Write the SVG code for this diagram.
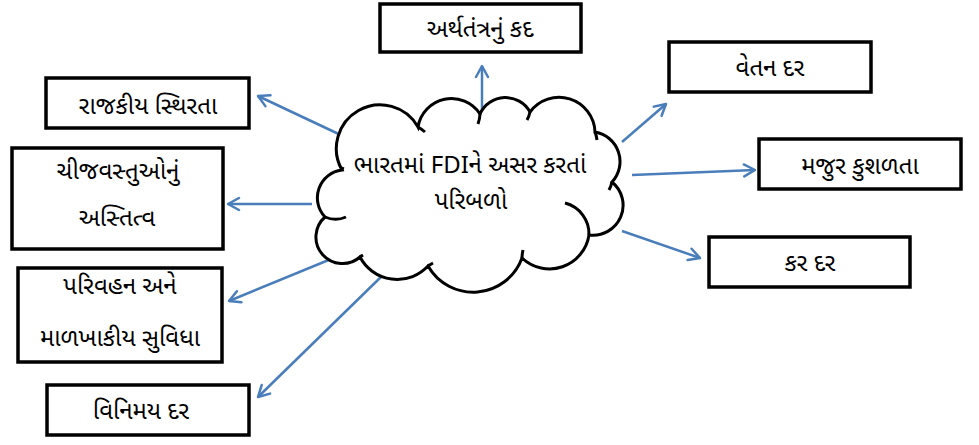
<svg xmlns="http://www.w3.org/2000/svg" width="979" height="445" viewBox="0 0 979 445">
<defs>
<marker id="ah" markerWidth="16" markerHeight="16" refX="13" refY="8" orient="auto" markerUnits="userSpaceOnUse">
<path d="M2,2 L13,8 L2,14" fill="none" stroke="#4a7ebb" stroke-width="2.5" stroke-linecap="round" stroke-linejoin="round"/>
</marker>
<style>
.box{fill:#fff;stroke:#000;stroke-width:3.5}
.t{font-family:"Noto Sans Gujarati","Noto Sans","Liberation Sans",sans-serif;font-size:24px;fill:#000;text-anchor:middle}
.c{fill:none;stroke:#4a7ebb;stroke-width:2.5;marker-end:url(#ah)}
.cl{fill:#fff;stroke:#000;stroke-width:3}
.st{fill:none;stroke:#000;stroke-width:3}
</style>
</defs>
<rect width="979" height="445" fill="#fff"/>
<g id="connectors">
<line class="c" x1="482" y1="118" x2="482" y2="66"/>
<line class="c" x1="622" y1="142" x2="666" y2="104"/>
<line class="c" x1="632" y1="175" x2="755" y2="170"/>
<line class="c" x1="622" y1="231" x2="700" y2="258"/>
<line class="c" x1="345" y1="137" x2="258" y2="96"/>
<line class="c" x1="312" y1="204" x2="228" y2="204"/>
<line class="c" x1="336" y1="257" x2="229" y2="301"/>
<line class="c" x1="383" y1="275" x2="258" y2="397"/>
</g>
<g id="cloud">
<path class="cl" d="M342,170 A40,40 0 0 1 418,127 A34,34 0 0 1 480,114 A28,28 0 0 1 530,112 A36,36 0 0 1 595,132 A30,30 0 0 1 612,182 A30,30 0 0 1 589,235 A40,40 0 0 1 522,258 A52,52 0 0 1 428,266 A42,42 0 0 1 360,257 A26,26 0 0 1 325,217 A28,28 0 0 1 342,170 Z"/>
<path class="st" d="M418,127 A40,40 0 0 1 425,132"/>
<path class="st" d="M480,114 A34,34 0 0 1 478,124"/>
<path class="st" d="M530,112 A28,28 0 0 1 527,120"/>
<path class="st" d="M595,132 A36,36 0 0 1 597,140"/>
<path class="st" d="M612,182 A30,30 0 0 1 609,190"/>
<path class="st" d="M565,203 A32,32 0 0 1 589,235"/>
<path class="st" d="M522,258 A40,40 0 0 1 523,250"/>
<path class="st" d="M428,266 A52,52 0 0 1 433,263"/>
<path class="st" d="M360,257 A42,42 0 0 1 363,255"/>
<path class="st" d="M325,217 A26,26 0 0 0 346,217"/>
<path class="st" d="M342,170 A28,28 0 0 1 343,167"/>
<text class="t" x="470" y="173">ભારતમાં FDIને અસર કરતાં</text>
<text class="t" x="471" y="209">પરિબળો</text>
</g>
<g id="n1"><rect class="box" x="380" y="4" width="201" height="48"/><text class="t" x="480" y="37">અર્થતંત્રનું કદ</text></g>
<g id="n2"><rect class="box" x="669" y="42" width="202" height="50"/><text class="t" x="770" y="76">વેતન દર</text></g>
<g id="n3"><rect class="box" x="759" y="139" width="202" height="50"/><text class="t" x="860" y="174">મજુર કુશળતા</text></g>
<g id="n4"><rect class="box" x="709" y="237" width="201" height="50"/><text class="t" x="810" y="271">કર દર</text></g>
<g id="n5"><rect class="box" x="46" y="78" width="203" height="50"/><text class="t" x="148" y="114">રાજકીય સ્થિરતા</text></g>
<g id="n6"><rect class="box" x="12" y="148" width="211" height="101"/><text class="t" x="118" y="179">ચીજવસ્તુઓનું</text><text class="t" x="117" y="226">અસ્તિત્વ</text></g>
<g id="n7"><rect class="box" x="18" y="268" width="204" height="94"/><text class="t" x="120" y="294">પરિવહન અને</text><text class="t" x="120" y="346">માળખાકીય સુવિધા</text></g>
<g id="n8"><rect class="box" x="47" y="385" width="202" height="50"/><text class="t" x="141" y="419">વિનિમય દર</text></g>
</svg>
